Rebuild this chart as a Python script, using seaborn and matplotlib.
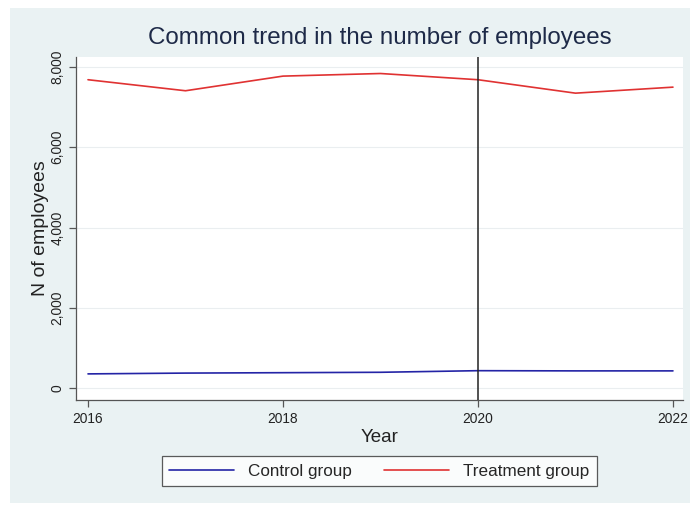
import seaborn as sns
import matplotlib.pyplot as plt
import pandas as pd
from matplotlib.patches import Rectangle
from matplotlib.ticker import FuncFormatter

years = [2016, 2017, 2018, 2019, 2020, 2021, 2022]
control = [350, 370, 380, 390, 430, 425, 425]
treatment = [7685, 7410, 7775, 7840, 7685, 7350, 7500]
groups = ["Control group", "Treatment group"]
treat_year = 2020

df = pd.DataFrame({
    "year": years * 2,
    "employees": control + treatment,
    "group": [groups[0]] * len(years) + [groups[1]] * len(years),
})

sns.set_style("ticks")
plt.rcParams['font.family'] = ['Liberation Sans', 'DejaVu Sans']

fig = plt.figure(figsize=(6.91, 5.05), dpi=100, facecolor='white')
fig.patches.append(Rectangle((10 / 691, 2 / 505), 680 / 691, 495 / 505,
                             transform=fig.transFigure, facecolor='#eaf2f3',
                             edgecolor='none', zorder=-10))
ax = fig.add_axes([0.110, 0.208, 0.878, 0.679])
ax.set_facecolor('white')

palette = {groups[0]: '#2424a6', groups[1]: '#e03232'}
sns.lineplot(data=df, x="year", y="employees", hue="group", palette=palette,
             linewidth=1.2, ax=ax, legend=False)
ax.axvline(treat_year, color='#222222', linewidth=1.1, zorder=3)

ax.set_xlim(2015.877, 2022.1)
ax.set_ylim(-300, 8250)
ax.set_xticks([2016, 2018, 2020, 2022])
ax.set_yticks([0, 2000, 4000, 6000, 8000])
ax.yaxis.set_major_formatter(FuncFormatter(lambda v, p: f"{int(v):,}"))
ax.grid(axis='y', color='#eaeef0', linewidth=0.8)
ax.set_axisbelow(True)

for s in ['top', 'right']:
    ax.spines[s].set_visible(False)
for s in ['left', 'bottom']:
    ax.spines[s].set_color('#555555')
    ax.spines[s].set_linewidth(0.9)

ax.tick_params(axis='both', colors='#555555', labelcolor='#222222',
               labelsize=9.9, length=5, width=0.9)
ax.tick_params(axis='y', labelrotation=90)
for lab in ax.get_yticklabels():
    lab.set_va('center')

ax.set_xlabel("Year", fontsize=13.5, color='#222222', labelpad=2)
ax.set_ylabel("N of employees", fontsize=14, color='#222222', labelpad=1)
fig.text(0.549, 0.925, "Common trend in the number of employees",
         ha='center', va='center', fontsize=17.4, color='#1e2a48')

handles = [plt.Line2D([], [], color=palette[g], linewidth=1.2) for g in groups]
leg = fig.legend(handles, groups, loc='center', bbox_to_anchor=(0.549, 0.067),
                 ncol=2, fontsize=12.3, frameon=True, fancybox=False,
                 edgecolor='#333333', handlelength=3.8, columnspacing=1.9,
                 borderpad=0.45)
leg.get_frame().set_linewidth(0.9)
leg.get_frame().set_facecolor('white')

fig.savefig("out.png", dpi=100, facecolor='white')
